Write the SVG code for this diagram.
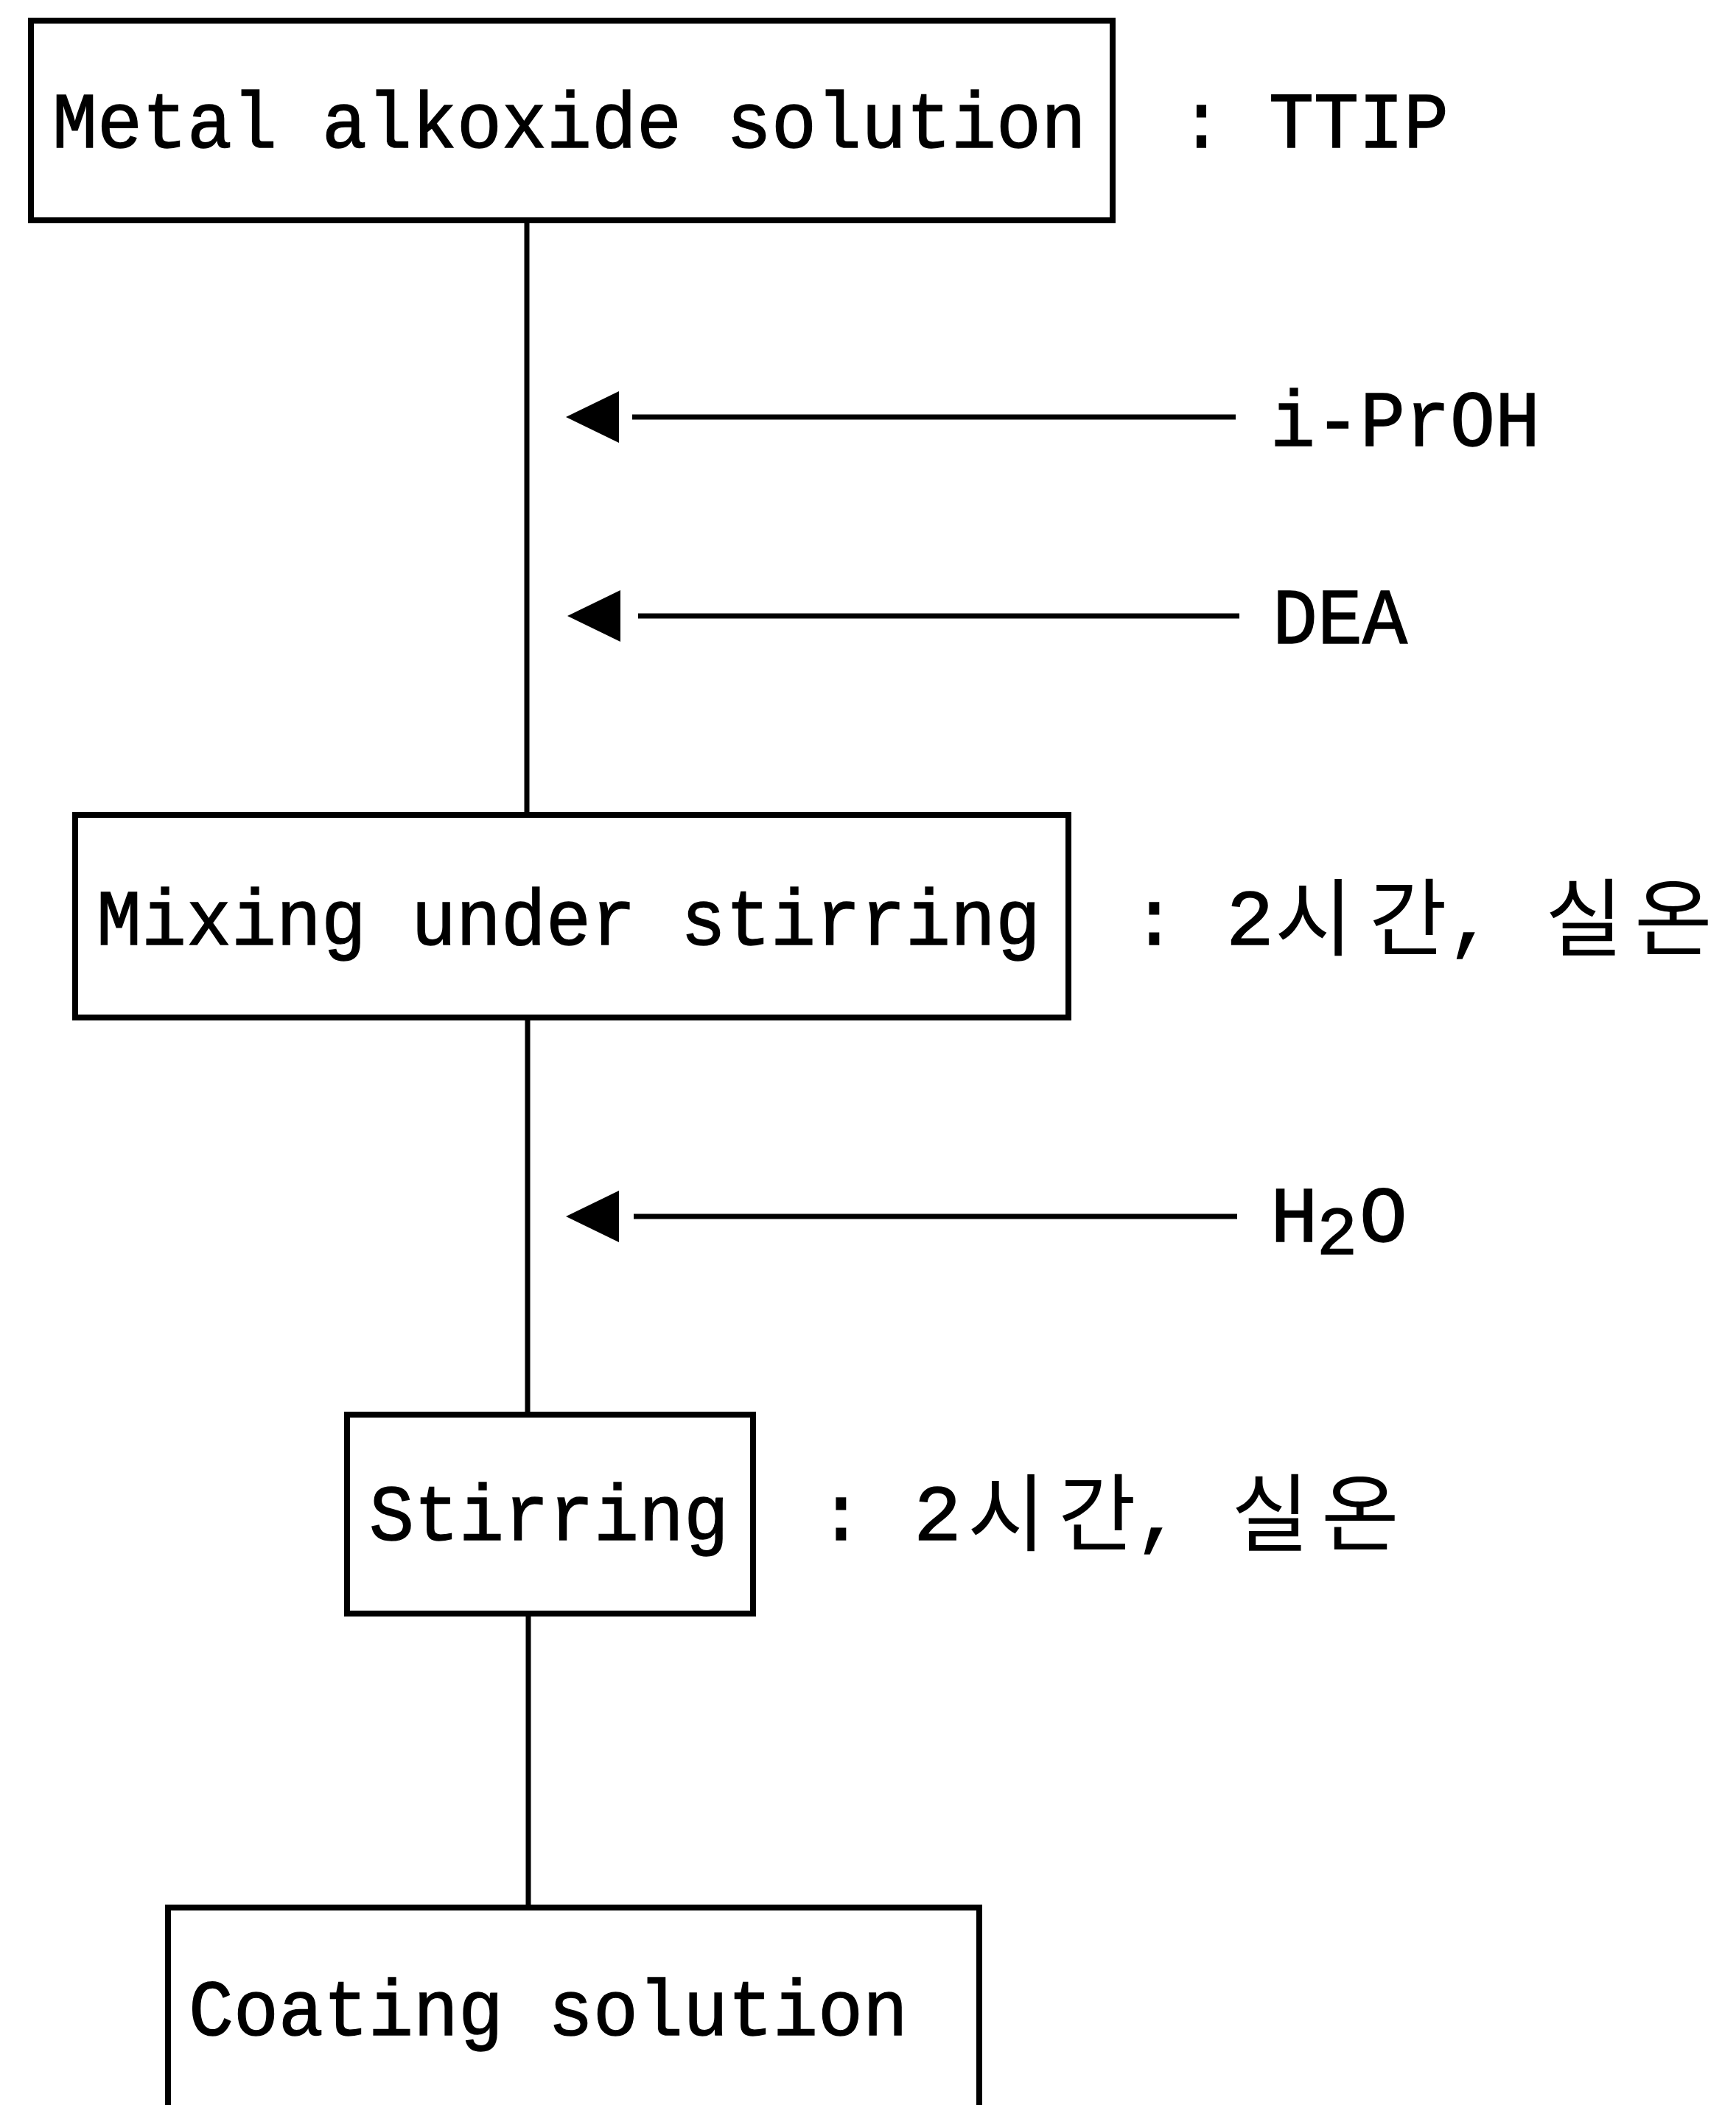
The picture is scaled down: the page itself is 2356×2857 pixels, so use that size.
<svg xmlns="http://www.w3.org/2000/svg" width="2356" height="2857" viewBox="0 0 2356 2857">
  <style>
    .box { fill: none; stroke: #000; stroke-width: 8; }
    .line { fill: none; stroke: #000; stroke-width: 7; }
    .feed { fill: none; stroke: #000; stroke-width: 7; }
    .head { fill: #000; }
    .t { font-family: "Liberation Mono", "DejaVu Sans Mono", monospace; font-size: 108px; fill: #000; stroke: #000; stroke-width: 1.5; }
    .sub { font-family: "Liberation Mono", "DejaVu Sans Mono", monospace; font-size: 92px; fill: #000; stroke: #000; stroke-width: 1.5; }
    .k { font-family: "Noto Sans CJK KR", "Noto Sans", sans-serif; font-size: 115px; fill: #000; }
  </style>
  <defs>
    <polygon id="arrowhead" class="head" points="0,0 72,-35 72,35"/>
  </defs>
  <rect width="2356" height="2857" fill="#fff"/>

  <!-- connectors: main process line and feed arrows -->
  <g id="connectors">
    <path class="line" d="M715 299 V1106"/>
    <path class="line" d="M716 1381 V1920"/>
    <path class="line" d="M717 2190 V2589"/>
    <!-- i-PrOH feed -->
    <use href="#arrowhead" x="768" y="566"/>
    <path class="feed" d="M858 566 H1677"/>
    <!-- DEA feed -->
    <use href="#arrowhead" x="770" y="836"/>
    <path class="feed" d="M866 836 H1682"/>
    <!-- H2O feed -->
    <use href="#arrowhead" x="768" y="1651"/>
    <path class="feed" d="M860 1651 H1679"/>
  </g>

  <!-- step 1 -->
  <g id="node-alkoxide">
    <rect class="box" x="42" y="28" width="1468" height="271"/>
    <text class="t" x="71" y="200" textLength="1403" lengthAdjust="spacingAndGlyphs">Metal alkoxide solution</text>
    <text class="t" x="1600" y="200" textLength="366" lengthAdjust="spacingAndGlyphs">: TTIP</text>
  </g>

  <!-- additives -->
  <g id="label-iproh">
    <text class="t" x="1724" y="605" textLength="366" lengthAdjust="spacingAndGlyphs">i-PrOH</text>
  </g>
  <g id="label-dea">
    <text class="t" x="1727" y="873" textLength="183" lengthAdjust="spacingAndGlyphs">DEA</text>
  </g>

  <!-- step 2 -->
  <g id="node-mixing">
    <rect class="box" x="102" y="1106" width="1348" height="275"/>
    <text class="t" x="131" y="1282" textLength="1281" lengthAdjust="spacingAndGlyphs">Mixing under stirring</text>
    <text><tspan class="t" x="1534" y="1282">:</tspan><tspan class="t" x="1664" y="1282">2</tspan><tspan class="k" x="1730" y="1288">시</tspan><tspan class="k" x="1858" y="1288">간</tspan><tspan class="t" x="1964" y="1282">,</tspan><tspan class="k" x="2097" y="1288">실</tspan><tspan class="k" x="2218" y="1288">온</tspan></text>
  </g>

  <!-- water -->
  <g id="label-h2o">
    <text><tspan class="t" x="1724" y="1685">H</tspan><tspan class="sub" x="1787" y="1702">2</tspan><tspan class="t" x="1845" y="1685">O</tspan></text>
  </g>

  <!-- step 3 -->
  <g id="node-stirring">
    <rect class="box" x="471" y="1920" width="551" height="270"/>
    <text class="t" x="501" y="2090" textLength="488" lengthAdjust="spacingAndGlyphs">Stirring</text>
    <text><tspan class="t" x="1109" y="2090">:</tspan><tspan class="t" x="1240" y="2090">2</tspan><tspan class="k" x="1313" y="2096">시</tspan><tspan class="k" x="1436" y="2096">간</tspan><tspan class="t" x="1540" y="2090">,</tspan><tspan class="k" x="1671" y="2096">실</tspan><tspan class="k" x="1793" y="2096">온</tspan></text>
  </g>

  <!-- product: box runs past the lower edge of the sheet -->
  <g id="node-coating">
    <rect class="box" x="228" y="2589" width="1101" height="340"/>
    <text class="t" x="256" y="2762" textLength="976" lengthAdjust="spacingAndGlyphs">Coating solution</text>
  </g>
</svg>
